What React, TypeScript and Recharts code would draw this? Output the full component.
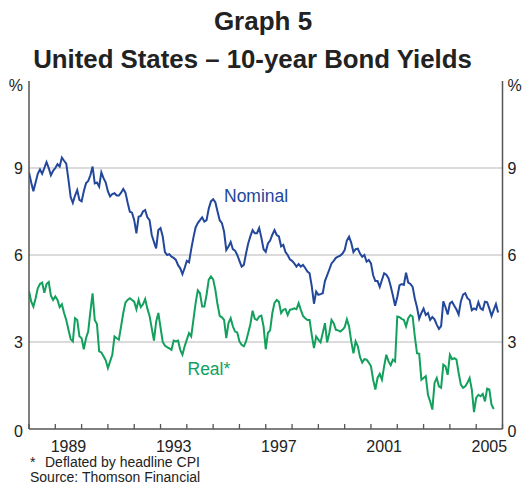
import React from 'react';
import { LineChart, Line, XAxis, YAxis, ReferenceLine } from 'recharts';

const startYear = 1988;
const yearLabels = [1989, 1993, 1997, 2001, 2005];
const yTicks = [0, 3, 6, 9, 12];
const gridValues = [3, 6, 9];

// Monthly, from Jan 1988
const nominal = [
  8.85, 8.5, 8.2, 8.5, 8.8, 8.95, 8.8, 9.0, 9.2, 9.0, 8.75, 8.9,
  9.0, 9.13, 9.05, 9.36, 9.25, 9.15, 8.6, 8.0, 7.8, 8.05, 8.24, 7.9,
  7.85, 8.2, 8.47, 8.55, 8.75, 9.05, 8.47, 8.5, 8.36, 8.85, 8.65, 8.5,
  8.19, 8.02, 8.1, 8.13, 8.05, 8.05, 8.15, 8.28, 8.15, 7.8, 7.49, 7.46,
  7.2, 6.75, 7.32, 7.35, 7.5, 7.55, 7.3, 7.2, 6.69, 6.45, 6.23, 6.86,
  6.93, 6.64, 6.1, 6.0, 6.03, 5.94, 5.9, 5.83, 5.65, 5.54, 5.34, 5.55,
  5.8, 5.75, 6.2, 6.6, 6.95, 7.1, 7.2, 7.3, 7.15, 7.2, 7.6, 7.85,
  7.92, 7.82, 7.5, 7.2, 7.1, 6.8, 6.17, 6.29, 6.45, 6.2, 6.15, 6.0,
  5.8, 5.6, 5.66, 6.05, 6.4, 6.65, 6.86, 6.75, 6.75, 6.93, 6.6, 6.2,
  6.11, 6.4, 6.5, 6.7, 6.86, 6.69, 6.64, 6.3, 6.35, 6.1, 6.0, 5.85,
  5.8, 5.71, 5.6, 5.69, 5.6, 5.66, 5.55, 5.43, 5.37, 4.92, 4.32, 4.74,
  4.63, 4.65, 4.68, 5.1, 5.3, 5.5, 5.71, 5.8, 5.9, 5.94, 5.98, 6.05,
  6.17, 6.5, 6.63, 6.42, 6.1, 6.2, 6.22, 6.05, 5.94, 6.0, 5.77, 5.83,
  5.71, 5.3, 5.1, 5.1, 4.9, 5.14, 5.37, 5.32, 5.2, 4.92, 4.6, 4.25,
  4.55, 4.95, 5.0, 4.97, 5.39, 5.05, 5.0, 4.9, 4.5, 4.2, 3.8, 4.0,
  4.15, 3.93, 4.0, 3.76, 3.86, 3.78, 3.6, 3.45, 3.55, 4.4, 4.2, 3.95,
  4.33, 4.39, 4.25, 4.12, 3.95, 4.4, 4.63, 4.68, 4.51, 4.45, 4.1, 4.16,
  4.12, 4.37, 4.16, 4.11, 4.39, 4.37, 4.15, 3.9, 4.11, 4.31, 4.02,
];

const real = [
  4.75, 4.4, 4.22, 4.5, 4.85, 5.0, 5.05, 4.7, 5.0, 5.07, 4.6, 4.45,
  4.57, 4.45, 4.2, 4.3, 4.0, 3.76, 3.42, 3.1, 3.02, 3.82, 3.76, 3.2,
  3.13, 2.75, 3.13, 3.36, 4.05, 4.68, 3.76, 3.62, 2.68, 2.64, 2.51, 2.37,
  2.1, 2.33, 2.56, 3.19, 3.13, 3.08, 3.54, 4.0, 4.36, 4.45, 4.51, 4.45,
  4.39, 4.13, 4.45, 4.2, 4.3, 4.48, 4.15, 3.9, 3.47, 3.05, 3.7, 4.0,
  3.5, 3.0, 2.88, 2.82, 2.78, 2.73, 3.05, 3.02, 3.05, 2.73, 2.56, 2.85,
  3.08, 3.31, 3.19, 3.76, 4.34, 4.78, 4.68, 4.22, 4.22, 4.63, 5.15, 5.26,
  5.16, 4.8, 4.3, 3.9, 3.85, 3.76, 3.13, 3.65, 3.82, 3.54, 3.36, 3.33,
  3.02, 2.9, 2.85, 3.02, 3.31, 3.62, 4.08, 3.8, 3.76, 3.88, 3.91, 3.54,
  2.75, 3.32, 3.4, 4.0, 4.35, 4.45, 4.39, 4.0, 4.11, 4.14, 3.93, 4.11,
  4.13, 4.16, 4.13, 4.34, 4.11, 3.9, 3.82, 3.76, 3.76, 3.24, 2.79, 3.19,
  3.08, 2.99, 3.31, 3.65, 2.99, 3.31, 3.76, 3.65, 3.42, 3.4, 3.36, 3.42,
  3.51, 3.78, 3.54, 3.02, 2.61, 3.02, 2.85, 2.48, 2.29, 2.41, 2.39, 2.29,
  2.16, 1.7, 1.36, 1.76, 1.9, 1.7, 2.16, 2.56, 2.33, 2.2, 2.39, 2.33,
  3.88, 3.86, 3.8, 3.76, 3.54, 3.82, 3.93, 3.88, 3.19, 2.61, 2.59, 1.7,
  1.76, 1.82, 1.18, 0.95, 0.67, 1.59, 1.76, 1.47, 1.42, 2.22, 2.16, 1.87,
  2.56, 2.41, 2.44, 2.39, 1.93, 1.53, 1.42, 1.47, 1.59, 1.76, 1.36, 0.58,
  1.07, 1.18, 1.13, 1.21, 0.95, 1.39, 1.36, 0.84, 0.69,
];

const data = nominal.map((v, i) => ({ i, nominal: v, real: i < real.length ? real[i] : undefined }));

const totalMonths = 216;
const xTicks: number[] = [];
for (let m = 0; m <= totalMonths; m += 6) xTicks.push(m);

const FONT = '"Liberation Sans", Arial, Helvetica, sans-serif';
const BLUE = '#22479b';
const GREEN = '#12a05c';
const AXIS = '#555555';
const TEXT = '#222222';

const XTick = (props: any) => {
  const { x, y, payload } = props;
  const v = payload.value as number;
  if (v % 12 === 0) {
    return <line x1={x} x2={x} y1={y} y2={y - 5} stroke={AXIS} strokeWidth={1.3} />;
  }
  const year = startYear + (v - 6) / 12;
  if (yearLabels.includes(year)) {
    return (
      <text x={x} y={y + 23} textAnchor="middle" fontSize={16} fill={TEXT} fontFamily={FONT}>
        {year}
      </text>
    );
  }
  return <g />;
};

const makeYTick = (anchor: 'start' | 'end') => (props: any) => {
  const { x, y, payload } = props;
  const v = payload.value as number;
  const label = v === 12 ? '%' : String(v);
  const dy = v === 12 ? 10 : v === 0 ? 8 : 6;
  return (
    <text x={x} y={y + dy} textAnchor={anchor} fontSize={16} fill={TEXT} fontFamily={FONT}>
      {label}
    </text>
  );
};

const LeftTick = makeYTick('end');
const RightTick = makeYTick('start');

export default function App() {
  return (
    <div style={{ position: 'absolute', left: 0, top: 0, width: 526, height: 490, background: '#fff' }}>
      <LineChart
        width={526}
        height={490}
        data={data}
        margin={{ top: 81, right: 0, bottom: 0, left: 0 }}
      >
        <XAxis
          dataKey="i"
          type="number"
          domain={[0, totalMonths]}
          ticks={xTicks}
          interval={0}
          tick={<XTick />}
          tickLine={false}
          tickSize={0}
          tickMargin={0}
          height={61}
          axisLine={{ stroke: AXIS, strokeWidth: 1.5 }}
          allowDataOverflow
        />
        <YAxis
          yAxisId="left"
          orientation="left"
          width={29}
          domain={[0, 12]}
          ticks={yTicks}
          interval={0}
          tickLine={false}
          tickSize={0}
          tickMargin={6}
          axisLine={{ stroke: AXIS, strokeWidth: 1.5 }}
          tick={<LeftTick />}
        />
        <YAxis
          yAxisId="right"
          orientation="right"
          width={23.5}
          domain={[0, 12]}
          ticks={yTicks}
          interval={0}
          tickLine={false}
          tickSize={0}
          tickMargin={5}
          axisLine={{ stroke: AXIS, strokeWidth: 1.5 }}
          tick={<RightTick />}
        />
        {gridValues.map((g) => (
          <ReferenceLine key={g} y={g} yAxisId="left" stroke="#b8b8b8" strokeWidth={1.2} />
        ))}
        <Line
          yAxisId="left"
          type="linear"
          dataKey="nominal"
          stroke={BLUE}
          strokeWidth={2}
          dot={false}
          activeDot={false}
          isAnimationActive={false}
        />
        <Line
          yAxisId="right"
          type="linear"
          dataKey="real"
          stroke={GREEN}
          strokeWidth={2}
          dot={false}
          activeDot={false}
          isAnimationActive={false}
        />
      </LineChart>
      <svg
        width={526}
        height={490}
        style={{ position: 'absolute', left: 0, top: 0, pointerEvents: 'none' }}
        fontFamily={FONT}
      >
        <text x={263} y={30} textAnchor="middle" fontSize={26} fontWeight="bold" fill={TEXT}>
          Graph 5
        </text>
        <text x={252.5} y={68} textAnchor="middle" fontSize={25.8} fontWeight="bold" fill={TEXT}>
          United States – 10-year Bond Yields
        </text>
        <text x={224} y={201.5} fontSize={17.5} fill={BLUE}>
          Nominal
        </text>
        <text x={187.5} y={375} fontSize={17.5} fill={GREEN}>
          Real*
        </text>
        <text x={30} y={467} fontSize={14} fill={TEXT}>
          *
        </text>
        <text x={45} y={467} fontSize={14} fill={TEXT}>
          Deflated by headline CPI
        </text>
        <text x={30} y={482} fontSize={14} fill={TEXT}>
          Source: Thomson Financial
        </text>
      </svg>
    </div>
  );
}
